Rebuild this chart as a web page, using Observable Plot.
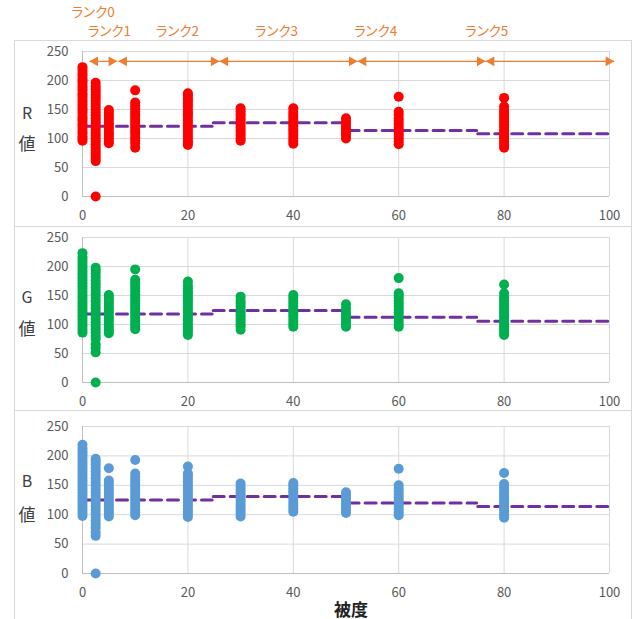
<!DOCTYPE html>
<html><head><meta charset="utf-8">
<script src="https://cdn.jsdelivr.net/npm/d3@7"></script>
<script src="https://cdn.jsdelivr.net/npm/@observablehq/plot@0.6"></script>
<style>
body{margin:0;background:#fff;}
#page{position:relative;width:635px;height:619px;overflow:hidden;font-family:"Noto Sans CJK JP",sans-serif;}
.frame{position:absolute;border:1px solid #d9d9d9;box-sizing:border-box;pointer-events:none;}
.panel{position:absolute;left:0;}
.t{position:absolute;transform:translate(-50%,-50%);line-height:1;white-space:nowrap;color:#404040;}
svg text{font-feature-settings:"palt";}
</style></head><body><div id="page"></div>
<script>
// ---- data ----
const xTicks = [0, 20, 40, 60, 80, 100];
const yTicks = [0, 50, 100, 150, 200, 250];
const coverX = [0, 2.5, 5, 10, 20, 30, 40, 50, 60, 80];

const rValues = [
  [96,100,104,109,113,118,122,126,131,135,139,144,148,152,157,161,165,170,174,178,183,187,191,196,200,204,209,213,218,223],
  [0,61,65,70,75,80,85,90,95,100,105,110,115,120,125,130,135,140,145,150,155,160,165,170,175,180,185,190,196],
  [92,96,101,106,110,115,120,124,129,134,139,144,149],
  [84,91,97,102,108,113,118,122,127,132,137,142,147,152,157,162,183],
  [89,93,98,103,108,113,118,122,127,132,137,142,146,151,156,160,165,169,174,178],
  [96,100,105,110,114,119,124,128,133,138,142,147,152],
  [91,96,101,106,111,116,121,126,131,136,141,146,152],
  [100,105,110,114,119,124,129,135],
  [90,95,100,105,110,115,120,125,130,135,141,146,172],
  [84,89,94,99,104,109,114,119,124,129,134,139,144,149,155,170]
];
const gValues = [
  [86,91,96,101,106,111,116,121,126,131,136,141,146,151,156,161,166,171,176,181,186,191,196,201,206,211,216,223],
  [0,52,60,66,75,80,86,92,98,104,110,116,122,128,134,140,146,152,158,164,170,176,182,188,193,198],
  [85,90,95,100,106,111,116,121,126,131,136,141,146,151],
  [92,97,102,107,112,117,122,127,132,137,142,147,152,157,162,167,172,177,195],
  [82,87,92,97,102,107,112,117,122,127,132,137,142,147,152,157,162,167,174],
  [91,97,101,106,111,116,121,126,131,136,141,148],
  [96,101,106,111,116,121,126,131,136,141,146,151],
  [96,101,106,111,116,121,128,135],
  [96,101,106,111,116,121,126,131,136,141,146,150,154,180],
  [82,87,92,97,102,107,112,117,122,127,132,137,142,147,154,169]
];
const bValues = [
  [98,103,108,113,118,123,128,133,138,143,148,153,158,163,168,173,178,183,188,193,198,203,208,213,219],
  [0,64,70,78,84,90,96,102,108,114,120,126,132,138,144,150,156,162,168,174,180,186,191,195],
  [97,102,107,112,117,122,127,132,137,142,147,153,158,179],
  [99,104,109,114,119,124,129,134,139,144,149,154,159,164,170,193],
  [96,101,106,111,116,121,126,131,136,141,146,151,156,161,166,170,182],
  [97,102,107,112,117,122,127,132,137,142,147,153],
  [105,110,115,120,125,130,135,140,145,150,154],
  [103,108,113,118,123,128,133,138],
  [99,104,109,114,119,124,129,134,139,144,150,178],
  [95,100,105,110,115,120,125,130,135,140,146,152,171]
];

// rank average lines
const segStart = [0, 24.8, 50.4, 75];
const segEnd = [24.6, 49.6, 74.8, 99.7];
const rLevels = [121, 127, 114, 108];
const gLevels = [118, 124, 112.6, 105.7];
const bLevels = [125, 131, 119.7, 114];

// rank ranges (arrows) and labels
const rankNames = ["ランク0", "ランク1", "ランク2", "ランク3", "ランク4", "ランク5"];
const rankLabelX = [2.0, 5.1, 18.0, 36.8, 55.6, 76.7];
const arrowStart = [1.3, 6.8, 26.0, 52.2, 76.5];
const arrowEnd = [6.6, 26.0, 52.2, 76.5, 100.9];
const arrowLevel = 233;

// ---- drawing ----
const ORANGE = "#ED7D31";
const page = document.getElementById("page");

function addDiv(cls, css, text) {
  const d = document.createElement("div");
  d.className = cls;
  Object.assign(d.style, css);
  if (text != null) d.textContent = text;
  page.appendChild(d);
  return d;
}

function panel(values, color, levels, top, height, mt, mb, extra) {
  const dots = coverX.flatMap((x, i) => values[i].map(v => ({x, v})));
  const lines = segStart.flatMap((s, i) => [{x: s, v: levels[i], seg: i}, {x: segEnd[i], v: levels[i], seg: i}]);
  const chart = Plot.plot({
    width: 635, height, marginLeft: 82, marginRight: 26, marginTop: mt, marginBottom: mb,
    x: {domain: [0, 100]}, y: {domain: [0, 250]},
    style: {fontFamily: "'Noto Sans CJK JP', sans-serif", fontSize: "13px", background: "transparent", overflow: "visible"},
    marks: [
      Plot.gridX(xTicks, {stroke: "#d9d9d9", strokeOpacity: 1}),
      Plot.gridY(yTicks, {stroke: "#d9d9d9", strokeOpacity: 1}),
      Plot.ruleX([0], {stroke: "#bfbfbf"}),
      Plot.ruleY([0], {stroke: "#bfbfbf"}),
      Plot.axisX(xTicks, {tickSize: 0, tickPadding: 14, color: "#595959", label: null}),
      Plot.axisY(yTicks, {tickSize: 0, tickPadding: 14, color: "#595959", label: null}),
      Plot.line(lines, {x: "x", y: "v", z: "seg", stroke: "#7030A0", strokeWidth: 3, strokeDasharray: "11,6"}),
      Plot.dot(dots, {x: "x", y: "v", r: 5, fill: color}),
      ...(extra || [])
    ]
  });
  const wrap = addDiv("panel", {top: top + "px"});
  wrap.appendChild(chart);
}

const arrows = arrowStart.map((s, i) => ({s, e: arrowEnd[i], y: arrowLevel}));
const labels = rankNames.map((t, i) => ({t, x: rankLabelX[i], y: 250, i}));
const rankMarks = [
  Plot.link(arrows, {x1: "s", x2: "e", y1: "y", y2: "y", stroke: ORANGE, strokeWidth: 1.2}),
  Plot.dot(arrows, {x: "s", y: "y", symbol: "triangle", rotate: -90, r: 3.7, fill: ORANGE, dx: 5.75}),
  Plot.dot(arrows, {x: "e", y: "y", symbol: "triangle", rotate: 90, r: 3.7, fill: ORANGE, dx: -5.75}),
  Plot.text(labels.filter(d => d.i === 0), {x: "x", y: "y", text: "t", dy: -39, fill: ORANGE, fontSize: 13.5}),
  Plot.text(labels.filter(d => d.i > 0), {x: "x", y: "y", text: "t", dy: -20, fill: ORANGE, fontSize: 13.5})
];

panel(rValues, "#FF0000", rLevels, 0, 227, 51, 31, rankMarks);
panel(gValues, "#00B050", gLevels, 227, 184, 10, 29);
panel(bValues, "#5B9BD5", bLevels, 411, 208, 15, 46);

// frames
addDiv("frame", {left: "14px", top: "40px", width: "618px", height: "187px"});
addDiv("frame", {left: "14px", top: "226px", width: "618px", height: "185px"});
addDiv("frame", {left: "14px", top: "410px", width: "618px", height: "230px"});

// axis titles
const yTitles = [["R", 112, "値", 142], ["G", 296, "値", 327], ["B", 480, "値", 513]];
for (const [a, ya, b, yb] of yTitles) {
  addDiv("t", {left: "27px", top: ya + "px", fontSize: "16px"}, a);
  addDiv("t", {left: "27px", top: yb + "px", fontSize: "17px"}, b);
}
addDiv("t", {left: "351px", top: "608px", fontSize: "17px", fontWeight: "bold", color: "#222"}, "被度");
</script>
</body></html>
